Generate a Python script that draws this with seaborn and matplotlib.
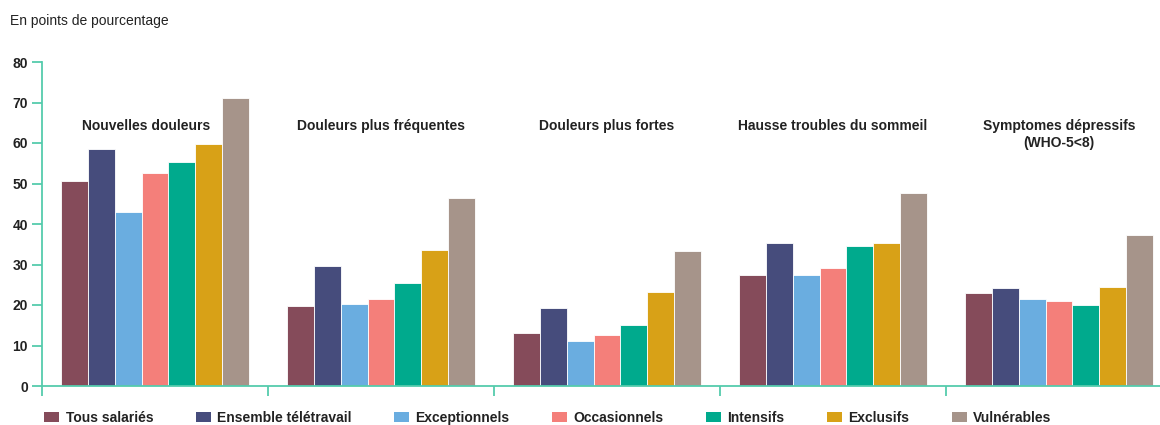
import pandas as pd
import seaborn as sns
import matplotlib.pyplot as plt
from matplotlib.patches import Patch

# ===Data===
groups = [
    'Nouvelles douleurs',
    'Douleurs plus fréquentes',
    'Douleurs plus fortes',
    'Hausse troubles du sommeil',
    'Symptomes dépressifs\n(WHO-5<8)',
]
series = [
    'Tous salariés',
    'Ensemble télétravail',
    'Exceptionnels',
    'Occasionnels',
    'Intensifs',
    'Exclusifs',
    'Vulnérables',
]
# one list per series, one value per group
tous_salaries = [50.5, 19.8, 13.1, 27.4, 23.0]
ensemble_teletravail = [58.5, 29.6, 19.2, 35.2, 24.3]
exceptionnels = [43.0, 20.2, 11.1, 27.4, 21.5]
occasionnels = [52.7, 21.5, 12.6, 29.1, 20.9]
intensifs = [55.3, 25.4, 15.1, 34.6, 20.1]
exclusifs = [59.8, 33.7, 23.1, 35.4, 24.5]
vulnerables = [71.0, 46.3, 33.3, 47.7, 37.4]

colors = ['#854b5a', '#464c7c', '#6aade0', '#f47f7a',
          '#00aa8d', '#d8a117', '#a6948a']
axis_color = '#55cbac'
text_color = '#222222'

values = [tous_salaries, ensemble_teletravail, exceptionnels, occasionnels,
          intensifs, exclusifs, vulnerables]

# long form table for seaborn
rows = []
for s, vals in zip(series, values):
    for g, v in zip(groups, vals):
        rows.append({'groupe': g, 'serie': s, 'valeur': v})
df = pd.DataFrame(rows)

sns.set_style('white')
plt.rcParams['font.family'] = ['Liberation Sans', 'DejaVu Sans']

fig = plt.figure(figsize=(11.6, 4.25), dpi=100)
ax = fig.add_axes([42 / 1160, 1 - 386 / 425, 1 - 42 / 1160, (386 - 62) / 425])

sns.barplot(data=df, x='groupe', y='valeur', hue='serie',
            order=groups, hue_order=series, palette=colors,
            saturation=1, width=0.83, edgecolor='white', linewidth=0.6,
            legend=False, ax=ax)

# ===Axes styling===
ax.set_ylim(0, 80)
ax.set_xlim(-0.5, 4.447)
ax.set_yticks(range(0, 81, 10))
ax.set_xticks([-0.5, 0.5, 1.5, 2.5, 3.5])
ax.set_xticklabels([])
ax.set_xlabel('')
ax.set_ylabel('')
for side in ['top', 'right']:
    ax.spines[side].set_visible(False)
for side in ['left', 'bottom']:
    ax.spines[side].set_color(axis_color)
    ax.spines[side].set_linewidth(1.3)
ax.tick_params(axis='y', length=7, width=1.3, color=axis_color,
               labelsize=10, labelcolor=text_color, pad=3, left=True)
ax.tick_params(axis='x', length=7, width=1.3, color=axis_color,
               bottom=True, direction='out')
for lab in ax.get_yticklabels():
    lab.set_fontweight('bold')

# group titles above the bars (first one sits a little left of centre)
for i, g in enumerate(groups):
    xpos = i - 0.04 if i == 0 else i
    ax.text(xpos, 65.9, g, ha='center', va='top', fontsize=10,
            fontweight='bold', color=text_color, linespacing=1.25)

fig.text(10 / 1160, 1 - 21 / 425, 'En points de pourcentage',
         fontsize=10, color=text_color, va='center', ha='left')

# ===Legend===
handles = [Patch(facecolor=c, edgecolor='none') for c in colors]
fig.legend(handles, series, loc='center left', ncol=7,
           bbox_to_anchor=(44 / 1160, 1 - 418 / 425), frameon=False,
           handlelength=1.1, handleheight=0.8, handletextpad=0.45,
           columnspacing=3.05, borderpad=0, borderaxespad=0,
           prop={'size': 10, 'weight': 'bold'}, labelcolor=text_color)

fig.savefig('out.png', dpi=100)
